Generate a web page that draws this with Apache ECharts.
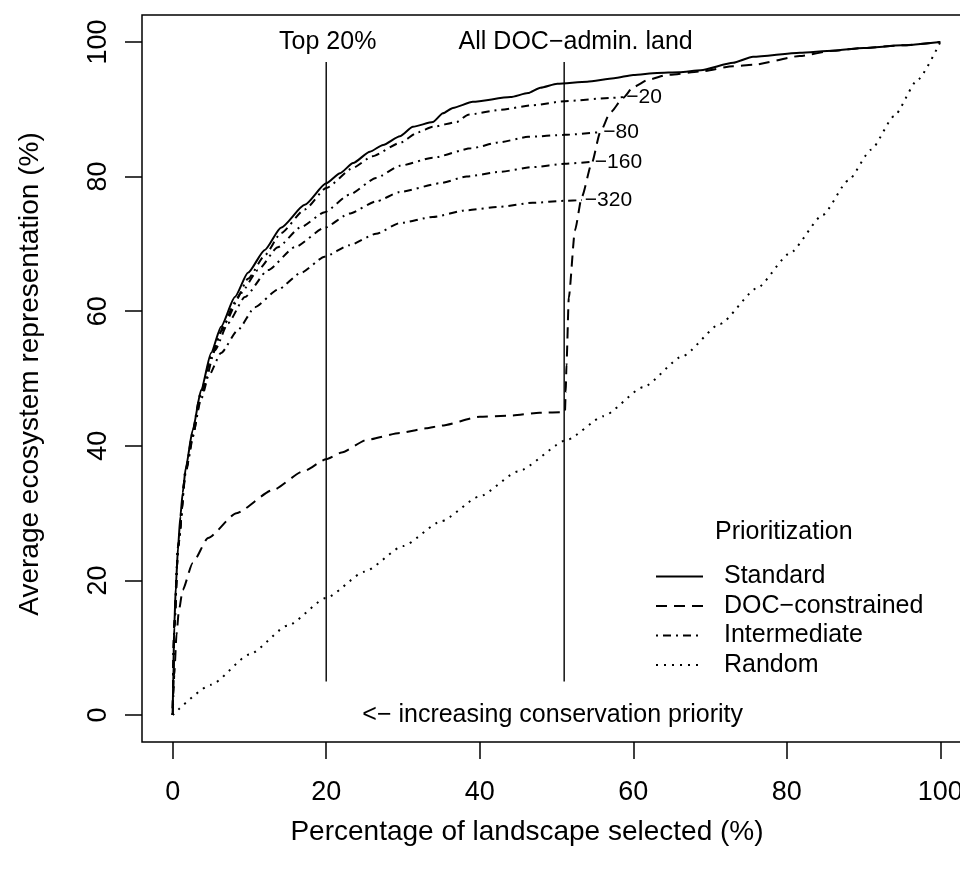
<!DOCTYPE html>
<html>
<head>
<meta charset="utf-8">
<script src="https://cdn.jsdelivr.net/npm/echarts@6.0.0/dist/echarts.min.js"></script>
<style>
  html, body { margin: 0; padding: 0; background: #fff; }
  #chart { width: 960px; height: 875px; }
</style>
</head>
<body>
<div id="chart"></div>
<script>
const FONT = '"Liberation Sans", Arial, Helvetica, sans-serif';

const tickValues = [0, 20, 40, 60, 80, 100];

// [percentage selected, average representation]
const standard = [[0,0],[0.1,8],[0.2,13],[0.4,19],[0.7,25],[1.0,29.5],[1.3,33],[1.7,36.7],[2.6,42.3],[3.7,48.3],[5.0,53.8],[6.3,57.7],[8.1,62.1],[9.8,65.7],[12.0,69.1],[14.1,72.4],[17.2,75.8],[20.0,79.0],[21.8,80.5],[23.5,82.0],[25.7,83.7],[27.4,84.7],[29.6,86.0],[31.3,87.4],[33.9,88.1],[35.2,89.4],[36.5,90.2],[39.1,91.1],[44,91.8],[46.3,92.4],[47.9,93.2],[50.1,93.8],[54,94.1],[57.5,94.6],[60,95.1],[63.1,95.4],[66,95.5],[68.8,95.8],[73,96.9],[75.6,97.8],[81.7,98.4],[86,98.7],[90,99.1],[95,99.5],[100,100]];

const docConstrained = [[0,0],[0.1,3],[0.2,6],[0.5,12],[0.8,15.5],[1.3,18.6],[2.6,22.6],[4.6,26.3],[8.3,30.0],[13,33.4],[17,36.2],[20,38.0],[22,39],[25.3,40.9],[29.6,41.9],[33,42.6],[35,43.0],[40,44.3],[44,44.5],[47.8,44.9],[51.1,45.0],[51.2,48],[51.3,52],[51.6,62],[52.4,72],[53.3,77],[54.6,82],[55.7,86.6],[57,89.5],[58.7,91.7],[60,93.3],[62,94.4],[64.4,95.1],[68.8,95.6],[73,96.4],[75.6,96.6],[81.7,97.9],[86,98.7],[90,99.1],[95,99.5],[100,100]];

const inter20 = [[0,0],[0.2,13],[0.7,25],[1.7,36.5],[3.7,48],[5.0,53.3],[6.3,57],[8.1,61.3],[9.8,64.8],[12,68.3],[14.1,71.6],[17.2,75.1],[20,78.3],[23.5,81.3],[26,83],[29.6,85.0],[32,86.6],[33.9,87.4],[37,88.1],[38.5,89.2],[42.6,89.9],[46.9,90.6],[51.1,91.2],[57.3,91.7],[58.7,91.8]];
const inter80 = [[0,0],[0.2,13],[0.7,25],[1.7,36.5],[2.6,42],[3.7,47.8],[5.0,53.2],[6.8,58.2],[8.9,62.7],[11.1,66.1],[13.7,69.5],[16.7,72.5],[19.8,74.7],[23,77.3],[26.5,79.8],[29.6,81.6],[33.9,82.8],[38.9,84.2],[42.6,85.1],[46.3,85.9],[51.1,86.2],[55.7,86.6]];
const inter160 = [[0,0],[0.2,13],[0.7,25],[1.7,36.3],[2.6,41.5],[3.7,47],[5.5,54.2],[7.2,58.2],[9.4,62.1],[12.4,66.1],[15.9,69.5],[19.8,72.4],[23,74.5],[26.5,76.3],[29.6,77.7],[34.8,79.0],[38.3,80.0],[42.6,80.7],[46.9,81.4],[51.1,81.9],[54.6,82.2]];
const inter320 = [[0,0],[0.2,13],[0.7,25],[1.7,36],[2.6,41.3],[3.7,47.5],[4.6,50.2],[6.3,53.8],[8.5,57.2],[10.7,60.6],[13.7,63.2],[16.7,65.7],[19.8,68.1],[23,69.8],[26.5,71.5],[29.6,73.1],[33.9,74.0],[38.3,75.0],[42.6,75.5],[46.9,76.1],[51.1,76.4],[53.3,76.5]];
const intermediates = [inter20, inter80, inter160, inter320];
const intermediateLabels = ['−20', '−80', '−160', '−320'];

const randomOrder = [[0,0],[5,4.5],[10,9.0],[15,13.3],[20,17.4],[25,21.3],[30,25.1],[35,28.8],[40,32.5],[45,36.2],[51.4,40.9],[56.1,44.4],[61.3,48.7],[66.4,53.3],[71.3,58.1],[76.1,63.4],[80.4,68.6],[84.7,74.3],[88,79.4],[91,84.0],[94,89.0],[97,94.3],[100,100]];

// reference lines: top 20% and all DOC-administered land
const cutoffs = [20, 51];
const cutoffSpan = [5, 97];

const annotations = [
  [20.2, 100, 'Top 20%'],
  [52.5, 100, 'All DOC−admin. land'],
  [49.5, 0, '<− increasing conservation priority']
];

const chart = echarts.init(document.getElementById('chart'));

const lineBase = {
  type: 'line',
  symbol: 'none',
  smooth: 0.2,
  smoothMonotone: 'x',
  silent: true,
  itemStyle: { color: '#000' },
  z: 3
};

const interSeries = intermediates.map((pts, i) => ({
  ...lineBase,
  name: 'Intermediate',
  data: pts,
  lineStyle: { color: '#000', width: 2, type: [2, 5, 8, 5] },
  endLabel: {
    show: true,
    formatter: intermediateLabels[i],
    fontSize: 21,
    fontFamily: FONT,
    color: '#000',
    distance: 3
  }
}));

const cutoffSeries = cutoffs.map(x => ({
  type: 'line',
  symbol: 'none',
  silent: true,
  data: cutoffSpan.map(y => [x, y]),
  lineStyle: { color: '#111', width: 1.5 },
  z: 2
}));

const axisCommon = {
  type: 'value',
  min: -4,
  max: 104,
  axisLine: { show: false, onZero: false },
  splitLine: { show: false },
  axisTick: { show: true, inside: false, customValues: tickValues, length: 17, lineStyle: { color: '#000', width: 1.5 } }
};

const options = {
  animation: false,
  backgroundColor: '#fff',
  textStyle: { fontFamily: FONT, color: '#000' },
  grid: {
    left: 142,
    top: 15,
    width: 829,
    height: 727,
    show: true,
    borderColor: '#000',
    borderWidth: 1.5,
    containLabel: false,
    outerBoundsMode: 'none'
  },
  title: {
    text: 'Prioritization',
    left: 710,
    top: 515,
    textStyle: { fontSize: 25, fontWeight: 'normal', color: '#000', fontFamily: FONT }
  },
  legend: {
    orient: 'vertical',
    left: 650,
    top: 559,
    itemWidth: 47,
    itemHeight: 14,
    itemGap: 4.5,
    itemStyle: { opacity: 0 },
    data: ['Standard', 'DOC−constrained', 'Intermediate', 'Random'],
    textStyle: { fontSize: 25, fontFamily: FONT, color: '#000', lineHeight: 25, padding: [0, 0, 0, 16] }
  },
  graphic: [
    {
      type: 'text',
      x: 527,
      y: 832,
      style: { text: 'Percentage of landscape selected (%)', fontSize: 28, fontFamily: FONT, fill: '#000', align: 'center', verticalAlign: 'middle' }
    },
    {
      type: 'text',
      x: 30,
      y: 374,
      rotation: Math.PI / 2,
      style: { text: 'Average ecosystem representation (%)', fontSize: 28, fontFamily: FONT, fill: '#000', align: 'center', verticalAlign: 'middle' }
    }
  ],
  xAxis: {
    ...axisCommon,
    axisLabel: { customValues: tickValues, margin: 37, fontSize: 27, fontFamily: FONT, color: '#000' }
  },
  yAxis: {
    ...axisCommon,
    axisLabel: { customValues: tickValues, margin: 30, rotate: 90, fontSize: 27, fontFamily: FONT, color: '#000' }
  },
  series: [
    ...cutoffSeries,
    {
      ...lineBase,
      name: 'Random',
      data: randomOrder,
      lineStyle: { color: '#000', width: 2, type: [2, 6] }
    },
    ...interSeries,
    {
      ...lineBase,
      name: 'DOC−constrained',
      data: docConstrained,
      lineStyle: { color: '#000', width: 2, type: [11, 7] }
    },
    {
      ...lineBase,
      name: 'Standard',
      data: standard,
      lineStyle: { color: '#000', width: 2, type: 'solid' }
    },
    {
      type: 'scatter',
      symbolSize: 0,
      silent: true,
      itemStyle: { opacity: 1, color: '#000' },
      data: annotations,
      label: {
        show: true,
        position: 'inside',
        formatter: p => p.data[2],
        fontSize: 25,
        fontFamily: FONT,
        color: '#000'
      }
    }
  ]
};

chart.setOption(options);
</script>
</body>
</html>
